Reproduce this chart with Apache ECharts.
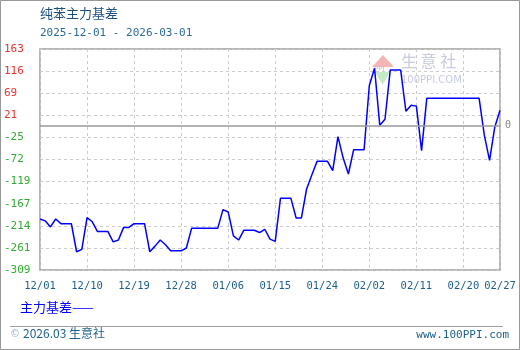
<!DOCTYPE html>
<html><head><meta charset="utf-8">
<script src="https://cdn.jsdelivr.net/npm/echarts@6/dist/echarts.min.js"></script>
<style>html,body{margin:0;padding:0;background:#fff}#c{width:520px;height:350px}</style>
</head><body><div id="c"></div>
<script>
var dates = [
'2025-12-01','2025-12-02','2025-12-03','2025-12-04','2025-12-05','2025-12-06','2025-12-07','2025-12-08','2025-12-09','2025-12-10',
'2025-12-11','2025-12-12','2025-12-13','2025-12-14','2025-12-15','2025-12-16','2025-12-17','2025-12-18','2025-12-19','2025-12-20',
'2025-12-21','2025-12-22','2025-12-23','2025-12-24','2025-12-25','2025-12-26','2025-12-27','2025-12-28','2025-12-29','2025-12-30',
'2025-12-31','2026-01-01','2026-01-02','2026-01-03','2026-01-04','2026-01-05','2026-01-06','2026-01-07','2026-01-08','2026-01-09',
'2026-01-10','2026-01-11','2026-01-12','2026-01-13','2026-01-14','2026-01-15','2026-01-16','2026-01-17','2026-01-18','2026-01-19',
'2026-01-20','2026-01-21','2026-01-22','2026-01-23','2026-01-24','2026-01-25','2026-01-26','2026-01-27','2026-01-28','2026-01-29',
'2026-01-30','2026-01-31','2026-02-01','2026-02-02','2026-02-03','2026-02-04','2026-02-05','2026-02-06','2026-02-07','2026-02-08',
'2026-02-09','2026-02-10','2026-02-11','2026-02-12','2026-02-13','2026-02-14','2026-02-15','2026-02-16','2026-02-17','2026-02-18',
'2026-02-19','2026-02-20','2026-02-21','2026-02-22','2026-02-23','2026-02-24','2026-02-25','2026-02-26','2026-02-27'
];
var basis = [
-200,-204,-217,-200,-210,-210,-210,-270,-265,-197,
-206,-227,-227,-227,-249,-245,-218,-218,-210,-210,
-210,-270,-258,-245,-255,-268,-268,-268,-262,-220,
-220,-220,-220,-220,-220,-180,-185,-236,-245,-224,
-224,-224,-229,-222,-243,-248,-156,-156,-156,-198,
-198,-136,-106,-77,-77,-77,-97,-24,-70,-104,
-52,-52,-52,85,122,0,13,118,118,118,
30,43,41,-54,58,58,58,58,58,58,
58,58,58,58,58,-21,-75,-4,32
];
var yTickLabels = ['-309','-261','-214','-167','-119','-72','-25','21','69','116','163'];
var yMin = -309, yMax = 163;
var zeroLine = 0;
var seriesName = '主力基差';
var titleText = '纯苯主力基差';
var rangeText = '2025-12-01 - 2026-03-01';

var chart = echarts.init(document.getElementById('c'), null, {renderer:'canvas'});
var mono = 'DejaVu Sans Mono';
var cjk = 'Noto Sans CJK SC';
function showIdx(i){ return i % 9 === 0 || i === dates.length - 1; }
chart.setOption({
  animation:false,
  backgroundColor:'#fff',
  grid:{left:40,right:20,top:49,bottom:80,show:true,borderColor:'#a0a0a0',borderWidth:1.5,backgroundColor:'transparent'},
  xAxis:{type:'category',data:dates,boundaryGap:false,
    axisLine:{show:false},axisTick:{show:false},
    axisLabel:{interval:function(i){return showIdx(i);},formatter:function(v){return v.slice(5).replace('-','/');},
      color:'#1c5f8c',fontFamily:mono,fontSize:10.5,margin:11},
    splitLine:{show:true,interval:function(i){return showIdx(i);},lineStyle:{color:'#cccccc',type:[3,3],width:1}}
  },
  yAxis:[
    {type:'value',min:yMin,max:yMax,show:false},
    {type:'category',data:yTickLabels,boundaryGap:false,position:'left',
      axisLine:{show:false},axisTick:{show:false},
      axisLabel:{align:'left',margin:36,fontFamily:mono,fontSize:11,
        color:function(v){return v.charAt(0)==='-'?'#33aa33':'#ee3333';}},
      splitLine:{show:true,lineStyle:{color:'#cccccc',type:[3,3],width:1}}
    }
  ],
  series:[{name:seriesName,type:'line',yAxisIndex:0,data:basis,symbol:'none',smooth:false,
    lineStyle:{color:'#0000ff',width:1.5},itemStyle:{color:'#0000ff'},
    markLine:{silent:true,symbol:'none',animation:false,
      lineStyle:{color:'#999999',type:'solid',width:1.5},
      label:{show:true,position:'end',formatter:String(zeroLine),color:'#888',fontFamily:mono,fontSize:10,distance:5},
      data:[{yAxis:zeroLine}]}
  }],
  graphic:[
    {type:'rect',shape:{x:0.5,y:0.5,width:519,height:349},style:{fill:'none',stroke:'#999',lineWidth:1},silent:true,z:-1},
    {type:'text',left:40,top:7,style:{text:titleText,font:'13px "Noto Sans CJK SC"',fill:'#1b4f80'}},
    {type:'text',left:40,top:28,style:{text:rangeText,font:'11px "DejaVu Sans Mono"',fill:'#2b6a96'}},
    {type:'text',left:20,top:301,style:{text:seriesName+'——',font:'13px "Noto Sans CJK SC"',fill:'#0000ff'}},
    {type:'line',shape:{x1:10,y1:326.5,x2:503,y2:326.5},style:{stroke:'#a0a0a0',lineWidth:1}},
    {type:'text',left:10,top:329,style:{text:'©',font:'10px "DejaVu Sans"',fill:'#9bb7cc'}},
    {type:'text',left:23,top:327,style:{text:'2026.03 生意社',font:'12px "Noto Sans CJK SC"',fill:'#1c5f8c'}},
    {type:'text',right:11,top:330,style:{text:'www.100PPI.com',font:'11px "DejaVu Sans Mono"',fill:'#1c5f8c'}},
    {type:'polygon',shape:{points:[[383,55],[372,67],[394,67]]},style:{fill:'#f5b5b5'},silent:true,z:-1},
    {type:'polygon',shape:{points:[[375,72],[390,72],[382.5,85]]},style:{fill:'#c5ebc5'},silent:true,z:-1},
    {type:'text',left:374,top:66,style:{text:'PPI',font:'7px "DejaVu Sans"',fill:'#b8bcc8'},silent:true,z:-1},
    {type:'text',left:401,top:53,style:{text:'生 意 社',font:'16px "Noto Sans CJK SC"',fill:'#c6cbdd'},silent:true,z:-1},
    {type:'text',left:401,top:75,style:{text:'100PPI.COM',font:'10px "DejaVu Sans"',fill:'#c6cbdd'},silent:true,z:-1}
  ]
});
</script></body></html>
